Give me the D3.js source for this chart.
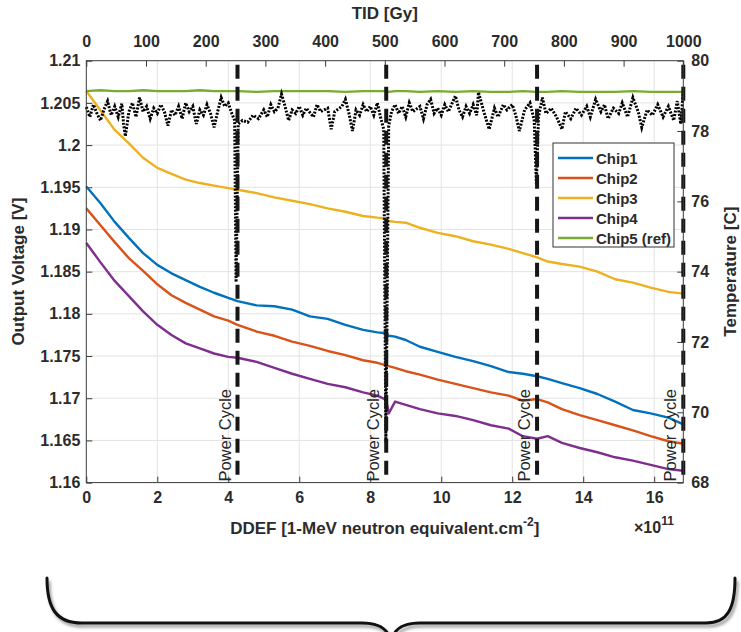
<!DOCTYPE html>
<html>
<head>
<meta charset="utf-8">
<script src="https://cdn.jsdelivr.net/npm/d3@7"></script>
<style>
  body { margin: 0; background: #fff; }
  svg { display: block; font-family: "Liberation Sans", Arial, Helvetica, sans-serif; }
</style>
</head>
<body>
<svg id="chart" width="741" height="632"></svg>
<script>
// ---- data -------------------------------------------------------------
// DDEF sample positions (x10^11 1-MeV neutron equivalent / cm^2)
const ddef = [
  0, 0.4, 0.8, 1.2, 1.6, 2.0, 2.4, 2.8, 3.2, 3.6,
  4.0, 4.26, 4.8, 5.3, 5.8, 6.3, 6.8, 7.3, 7.8, 8.2,
  8.45, 8.52, 8.7, 9.0, 9.4, 9.9, 10.4, 10.9, 11.4, 11.9,
  12.3, 12.7, 13.0, 13.4, 13.9, 14.4, 14.9, 15.4, 15.9, 16.4,
  16.82
];
// Output voltage per chip [V]
const chip1 = [
  1.1951, 1.1931, 1.1909, 1.1890, 1.1872, 1.1858, 1.1848, 1.1840, 1.1832, 1.1825,
  1.1819, 1.1815, 1.1810, 1.1809, 1.1805, 1.1797, 1.1794, 1.1787, 1.1781, 1.1778,
  1.1777, 1.1774, 1.1773, 1.1769, 1.1761, 1.1755, 1.1749, 1.1744, 1.1738, 1.1731,
  1.1729, 1.1726, 1.1723, 1.1718, 1.1712, 1.1705, 1.1696, 1.1686, 1.1682, 1.1677,
  1.1669
];
const chip2 = [
  1.1925, 1.1905, 1.1885, 1.1866, 1.1851, 1.1835, 1.1822, 1.1813, 1.1805, 1.1797,
  1.1792, 1.1787, 1.1779, 1.1774, 1.1767, 1.1762, 1.1756, 1.1751, 1.1745, 1.1742,
  1.1739, 1.1738, 1.1736, 1.1732, 1.1728, 1.1722, 1.1717, 1.1712, 1.1707, 1.1703,
  1.1697, 1.1699, 1.1695, 1.1687, 1.1680, 1.1674, 1.1668, 1.1662, 1.1655, 1.1649,
  1.1646
];
const chip3 = [
  1.2064, 1.2041, 1.2018, 1.2002, 1.1985, 1.1973, 1.1966, 1.1959, 1.1955, 1.1952,
  1.1949, 1.1947, 1.1943, 1.1938, 1.1934, 1.1930, 1.1925, 1.1921, 1.1916, 1.1914,
  1.1913, 1.1910, 1.1909, 1.1908, 1.1902, 1.1896, 1.1892, 1.1886, 1.1882, 1.1877,
  1.1872, 1.1867, 1.1862, 1.1859, 1.1856, 1.1850, 1.1841, 1.1837, 1.1831, 1.1826,
  1.1824
];
const chip4 = [
  1.1884, 1.1861, 1.1839, 1.1821, 1.1803, 1.1787, 1.1775, 1.1765, 1.1759, 1.1753,
  1.1749, 1.1748, 1.1743, 1.1736, 1.1729, 1.1723, 1.1717, 1.1713, 1.1707, 1.1703,
  1.1698, 1.1682, 1.1696, 1.1692, 1.1687, 1.1682, 1.1679, 1.1674, 1.1668, 1.1664,
  1.1655, 1.1652, 1.1655, 1.1647, 1.1641, 1.1636, 1.1630, 1.1626, 1.1621, 1.1616,
  1.1614
];
const chip5 = [
  1.2064, 1.2065, 1.2064, 1.2064, 1.2065, 1.2064, 1.2064, 1.2064, 1.2065, 1.2064,
  1.2064, 1.2064, 1.2063, 1.2064, 1.2064, 1.2064, 1.2064, 1.2063, 1.2064, 1.2064,
  1.2064, 1.2063, 1.2064, 1.2064, 1.2063, 1.2064, 1.2063, 1.2064, 1.2063, 1.2063,
  1.2064, 1.2063, 1.2063, 1.2064, 1.2063, 1.2063, 1.2063, 1.2064, 1.2063, 1.2063,
  1.2063
];
const seriesNames = ["Chip1", "Chip2", "Chip3", "Chip4", "Chip5 (ref)"];
const seriesColors = ["#0072BD", "#D95319", "#EDB120", "#7E2F8E", "#77AC30"];

// Board temperature [C] (right axis)
const tempDdef = [
  0.00, 0.10, 0.20, 0.30, 0.40, 0.50, 0.60, 0.70, 0.80, 0.90,
  1.00, 1.05, 1.10, 1.20, 1.30, 1.40, 1.50, 1.60, 1.70, 1.80,
  1.90, 2.00, 2.10, 2.20, 2.30, 2.40, 2.50, 2.60, 2.70, 2.80,
  2.90, 3.00, 3.10, 3.20, 3.30, 3.40, 3.50, 3.60, 3.70, 3.80,
  3.90, 4.00, 4.10, 4.18, 4.22, 4.28, 4.40, 4.55, 4.70, 4.85,
  5.00, 5.10, 5.20, 5.30, 5.40, 5.50, 5.60, 5.70, 5.80, 5.90,
  6.00, 6.10, 6.20, 6.40, 6.50, 6.60, 6.80, 6.90, 7.00, 7.20,
  7.30, 7.40, 7.50, 7.60, 7.70, 7.80, 7.90, 8.00, 8.10, 8.20,
  8.30, 8.38, 8.44, 8.52, 8.60, 8.70, 8.80, 8.90, 9.00, 9.10,
  9.20, 9.40, 9.50, 9.60, 9.70, 9.80, 9.90, 10.00, 10.10, 10.20,
  10.40, 10.50, 10.60, 10.70, 10.80, 10.90, 11.00, 11.05, 11.20, 11.35,
  11.50, 11.60, 11.75, 11.85, 12.00, 12.10, 12.20, 12.35, 12.50, 12.62,
  12.68, 12.74, 12.85, 12.95, 13.10, 13.25, 13.40, 13.50, 13.65, 13.80,
  13.95, 14.10, 14.20, 14.35, 14.50, 14.60, 14.70, 14.85, 15.00, 15.10,
  15.25, 15.40, 15.55, 15.65, 15.80, 15.95, 16.10, 16.25, 16.40, 16.55,
  16.65, 16.75, 16.82
];
const tempC = [
  78.68, 78.40, 78.75, 78.50, 78.30, 78.62, 78.85, 78.45, 78.70, 78.40,
  78.78, 78.20, 77.85, 78.55, 78.80, 78.40, 78.95, 78.55, 78.70, 78.35,
  78.65, 78.50, 78.75, 78.55, 78.15, 78.60, 78.45, 78.70, 78.35, 78.80,
  78.55, 78.70, 78.20, 78.60, 78.45, 78.75, 78.50, 78.10, 78.55, 78.95,
  78.70, 78.80, 78.50, 78.30, 73.70, 78.20, 78.30, 78.25, 78.45, 78.35,
  78.60, 78.40, 78.75, 78.55, 78.65, 79.05, 78.70, 78.30, 78.60, 78.50,
  78.70, 78.45, 78.65, 78.40, 78.75, 78.55, 78.65, 78.05, 78.55, 78.70,
  78.90, 78.50, 78.00, 78.60, 78.45, 78.75, 78.55, 78.70, 78.45, 78.80,
  78.35, 78.05, 69.15, 78.15, 78.55, 78.75, 78.50, 78.70, 78.40, 78.80,
  78.55, 78.70, 78.35, 78.75, 78.90, 78.50, 78.65, 78.45, 78.75, 78.55,
  79.00, 78.60, 78.40, 78.70, 78.50, 78.75, 78.45, 79.10, 78.55, 78.05,
  78.65, 78.40, 78.75, 78.60, 78.75, 78.45, 78.00, 78.60, 78.80, 78.30,
  76.50, 78.40, 78.95, 78.50, 78.65, 78.40, 78.05, 78.55, 78.35, 78.65,
  78.45, 78.70, 78.40, 78.90, 78.55, 78.75, 78.35, 78.65, 78.50, 78.80,
  78.40, 78.95, 78.55, 78.10, 78.60, 78.45, 78.75, 78.40, 78.70, 78.30,
  78.85, 78.20, 79.15
];

// Power cycle events (DDEF positions)
const powerCycles = [4.26, 8.45, 12.7, 16.82];
const powerCycleLabel = "Power Cycle";

// Axis ticks
const ddefTicks = [0, 2, 4, 6, 8, 10, 12, 14, 16];
const tidTicks = [0, 100, 200, 300, 400, 500, 600, 700, 800, 900, 1000];
const voltTicks = [1.16, 1.165, 1.17, 1.175, 1.18, 1.185, 1.19, 1.195, 1.2, 1.205, 1.21];
const tempTicks = [68, 70, 72, 74, 76, 78, 80];

// ---- layout -------------------------------------------------------------
const plot = { left: 86.3, right: 683.3, top: 60.7, bottom: 482.6 };
const textColor = "#2b2b2b";
const axisColor = "#3a3a3a";

const svg = d3.select("#chart");

const x = d3.scaleLinear().domain([0, 16.82]).range([plot.left, plot.right]);
const xTid = d3.scaleLinear().domain([0, 1000]).range([plot.left, plot.right]);
const y = d3.scaleLinear().domain([1.16, 1.21]).range([plot.bottom, plot.top]);
const yT = d3.scaleLinear().domain([68, 80]).range([plot.bottom, plot.top]);

// plot background
svg.append("rect")
  .attr("x", plot.left).attr("y", plot.top)
  .attr("width", plot.right - plot.left).attr("height", plot.bottom - plot.top)
  .attr("fill", "#fff");

// grid
const grid = svg.append("g").attr("stroke", "#e3e3e3").attr("stroke-width", 1);
grid.selectAll("line.vx").data(ddefTicks.filter(d => d > 0)).join("line")
  .attr("x1", d => x(d)).attr("x2", d => x(d))
  .attr("y1", plot.top).attr("y2", plot.bottom);
grid.selectAll("line.hy").data(voltTicks.filter(d => d > 1.16 && d < 1.21)).join("line")
  .attr("x1", plot.left).attr("x2", plot.right)
  .attr("y1", d => y(d)).attr("y2", d => y(d));

// axes
function styleAxis(g) {
  g.select(".domain").remove();
  g.selectAll(".tick line").attr("stroke", axisColor);
  g.selectAll(".tick text")
    .attr("fill", textColor)
    .attr("font-size", 16)
    .attr("font-weight", "bold")
    .attr("font-family", "'Liberation Sans', Arial, sans-serif");
}

svg.append("g")
  .attr("transform", `translate(0,${plot.bottom})`)
  .call(d3.axisBottom(x).tickValues(ddefTicks).tickFormat(d3.format("d")).tickSize(-6).tickPadding(9))
  .call(styleAxis);

svg.append("g")
  .attr("transform", `translate(0,${plot.top})`)
  .call(d3.axisTop(xTid).tickValues(tidTicks).tickFormat(d3.format("d")).tickSize(-6).tickPadding(14))
  .call(styleAxis);

svg.append("g")
  .attr("transform", `translate(${plot.left},0)`)
  .call(d3.axisLeft(y).tickValues(voltTicks).tickFormat(d => String(+d.toFixed(3))).tickSize(-6).tickPadding(6))
  .call(styleAxis);

svg.append("g")
  .attr("transform", `translate(${plot.right},0)`)
  .call(d3.axisRight(yT).tickValues(tempTicks).tickFormat(d3.format("d")).tickSize(-6).tickPadding(8))
  .call(styleAxis);

// chip voltage traces
const allChips = [chip1, chip2, chip3, chip4, chip5];
const vLine = d3.line().x(d => x(d[0])).y(d => y(d[1]));
const traces = svg.append("g").attr("fill", "none").attr("stroke-width", 2.4)
  .attr("stroke-linejoin", "round");
allChips.forEach((vals, i) => {
  traces.append("path")
    .datum(ddef.map((d, k) => [d, vals[k]]))
    .attr("stroke", seriesColors[i])
    .attr("d", vLine);
});

// temperature trace (dotted)
const tLine = d3.line().x(d => x(d[0])).y(d => yT(d[1]));
svg.append("path")
  .datum(tempDdef.map((d, k) => [d, tempC[k]]))
  .attr("fill", "none")
  .attr("stroke", "#000")
  .attr("stroke-width", 3)
  .attr("stroke-dasharray", "2,1.5")
  .attr("d", tLine);

// power-cycle markers
const pc = svg.append("g");
pc.selectAll("line").data(powerCycles).join("line")
  .attr("x1", d => x(d)).attr("x2", d => x(d))
  .attr("y1", plot.top + 4).attr("y2", plot.bottom)
  .attr("stroke", "#161616").attr("stroke-width", 4)
  .attr("stroke-dasharray", "14,8");
pc.selectAll("text").data(powerCycles).join("text")
  .attr("transform", d => `translate(${x(d) - 7},${plot.bottom - 1}) rotate(-90)`)
  .attr("font-size", 16.5)
  .attr("fill", "#262626")
  .text(powerCycleLabel);

// plot box
svg.append("rect")
  .attr("x", plot.left).attr("y", plot.top)
  .attr("width", plot.right - plot.left).attr("height", plot.bottom - plot.top)
  .attr("fill", "none").attr("stroke", axisColor).attr("stroke-width", 1);

// legend
const lg = { x: 553, y: 143, w: 121, h: 104 };
const legend = svg.append("g");
legend.append("rect")
  .attr("x", lg.x).attr("y", lg.y).attr("width", lg.w).attr("height", lg.h)
  .attr("fill", "#fff").attr("stroke", "#333").attr("stroke-width", 1);
seriesNames.forEach((name, i) => {
  const yy = lg.y + 15 + i * 20;
  legend.append("line")
    .attr("x1", lg.x + 5).attr("x2", lg.x + 40)
    .attr("y1", yy).attr("y2", yy)
    .attr("stroke", seriesColors[i]).attr("stroke-width", 2.6);
  legend.append("text")
    .attr("x", lg.x + 43).attr("y", yy + 5.5)
    .attr("font-size", 15).attr("font-weight", "bold")
    .attr("fill", textColor)
    .text(name);
});

// axis titles
const titleFont = { size: 17, weight: "bold" };
svg.append("text")
  .attr("x", (plot.left + plot.right) / 2).attr("y", 19)
  .attr("text-anchor", "middle")
  .attr("font-size", titleFont.size).attr("font-weight", titleFont.weight)
  .attr("fill", textColor)
  .text("TID [Gy]");

const xl = svg.append("text")
  .attr("x", (plot.left + plot.right) / 2).attr("y", 534)
  .attr("text-anchor", "middle")
  .attr("font-size", titleFont.size).attr("font-weight", titleFont.weight)
  .attr("fill", textColor);
xl.append("tspan").text("DDEF [1-MeV neutron equivalent.cm");
xl.append("tspan").attr("font-size", 12).attr("dy", -8).text("-2");
xl.append("tspan").attr("dy", 8).text("]");

const ex = svg.append("text")
  .attr("x", 634).attr("y", 533)
  .attr("font-size", 16).attr("font-weight", "bold")
  .attr("fill", textColor);
ex.append("tspan").text("\u00d710");
ex.append("tspan").attr("font-size", 12).attr("dy", -8).text("11");

svg.append("text")
  .attr("transform", `translate(24,${(plot.top + plot.bottom) / 2}) rotate(-90)`)
  .attr("text-anchor", "middle")
  .attr("font-size", titleFont.size).attr("font-weight", titleFont.weight)
  .attr("fill", textColor)
  .text("Output Voltage [V]");

svg.append("text")
  .attr("transform", `translate(736,${(plot.top + plot.bottom) / 2}) rotate(-90)`)
  .attr("text-anchor", "middle")
  .attr("font-size", titleFont.size).attr("font-weight", titleFont.weight)
  .attr("fill", textColor)
  .text("Temperature [C]");

// curly brace spanning the figure
const brace = "M47,578 C47,608 56,623 82,623 L362,623 C381,623 390,630 391,645 " +
              "M391,645 C392,630 401,623 420,623 L706,623 C728,623 735,608 735,578";
const defs = svg.append("defs");
defs.append("filter").attr("id", "soft")
  .append("feGaussianBlur").attr("stdDeviation", 1.6);
svg.append("path")
  .attr("d", brace)
  .attr("transform", "translate(2,3)")
  .attr("fill", "none").attr("stroke", "#9a9a9a").attr("stroke-width", 3)
  .attr("filter", "url(#soft)");
svg.append("path")
  .attr("d", brace)
  .attr("fill", "none").attr("stroke", "#111").attr("stroke-width", 3)
  .attr("stroke-linecap", "round");
</script>
</body>
</html>
